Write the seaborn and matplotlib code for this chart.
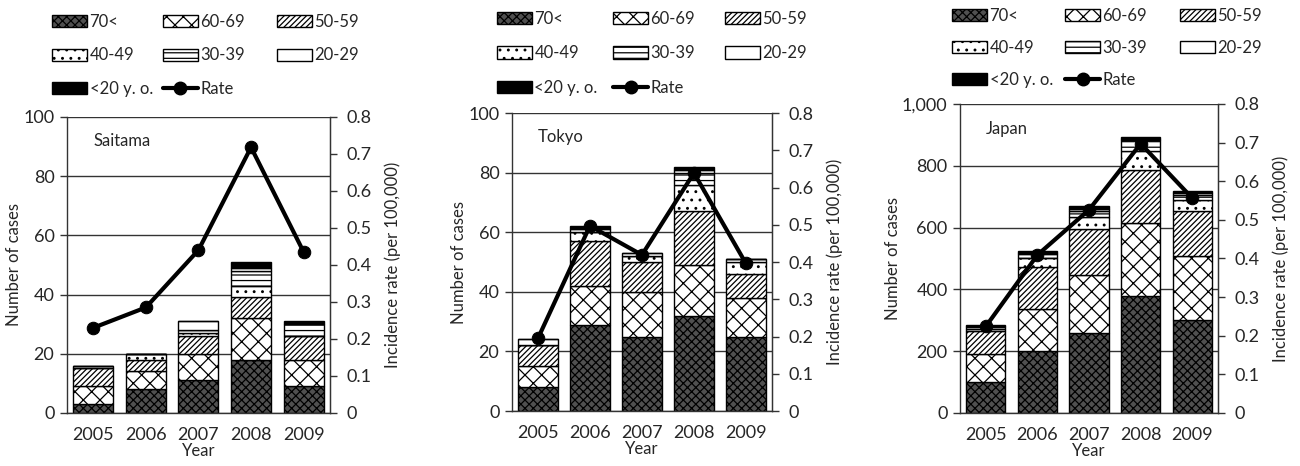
import numpy as np
import pandas as pd
import seaborn as sns
import matplotlib.pyplot as plt
from matplotlib.patches import Patch
from matplotlib.lines import Line2D

sns.set_style("white")
plt.rcParams['font.family'] = ['Lato', 'DejaVu Sans']
plt.rcParams['hatch.linewidth'] = 0.9

years = ['2005', '2006', '2007', '2008', '2009']
groups = ['70<', '60-69', '50-59', '40-49', '30-39', '20-29', '<20 y. o.']

# cases by age group (rows: 70<, 60-69, 50-59, 40-49, 30-39, 20-29, <20)
saitama_cases = [[3, 8, 11, 18, 9],
                 [6, 6, 9, 14, 9],
                 [6, 4, 6, 7, 8],
                 [0, 2, 1, 4, 0],
                 [1, 0, 1, 5, 4],
                 [0, 0, 3, 1, 0],
                 [0, 0, 0, 2, 1]]
tokyo_cases = [[8, 29, 25, 32, 25],
               [7, 13, 15, 17, 13],
               [7, 15, 10, 18, 8],
               [0, 3, 2, 9, 4],
               [0, 0, 0, 4, 1],
               [2, 1, 1, 1, 0],
               [0, 1, 0, 1, 0]]
japan_cases = [[100, 200, 260, 378, 300],
               [90, 135, 187, 235, 209],
               [76, 137, 148, 172, 143],
               [6, 30, 40, 64, 38],
               [5, 12, 18, 33, 16],
               [4, 5, 8, 6, 6],
               [2, 4, 8, 6, 7]]

saitama_rate = [0.23, 0.285, 0.44, 0.718, 0.435]
tokyo_rate = [0.195, 0.497, 0.419, 0.639, 0.396]
japan_rate = [0.224, 0.409, 0.526, 0.697, 0.556]

# look of each age band
faces = ['#505050', 'white', 'white', 'white', 'white', 'white', 'black']
hatches = ['xxxx', 'xx', '//////', '..', '---', '', '']

fig = plt.figure(figsize=(13, 4.66), dpi=100)

# name, data, rate, ymax, step, axes rect, legend column x (px), legend top y (px), row spacing
panels = [
    ('Saitama', saitama_cases, saitama_rate, 100, 20, [0.0515, 0.114, 0.2023, 0.635], [52, 163, 277], 14, 1.05),
    ('Tokyo', tokyo_cases, tokyo_rate, 100, 20, [0.3938, 0.118, 0.2, 0.6395], [497, 613, 725], 11, 1.1),
    ('Japan', japan_cases, japan_rate, 1000, 200, [0.7385, 0.114, 0.1985, 0.663], [952, 1065, 1180], 8, 0.95),
]

# legend rows read 70<, 60-69, 50-59 / 40-49, 30-39, 20-29 / <20, Rate
leg_cols = [[0, 3, 6], [1, 4, 7], [2, 5]]

for name, cases, rate, ymax, ystep, pos, colx, legtop, lspace in panels:
    ax = fig.add_axes(pos)
    x = np.arange(len(years))
    bottom = np.zeros(len(years))
    for i, vals in enumerate(cases):
        ax.bar(x, vals, bottom=bottom, width=0.76, color=faces[i], hatch=hatches[i],
               edgecolor='black', linewidth=1.0, zorder=2)
        bottom += np.array(vals)

    ax.set_xlim(-0.5, 4.5)
    ax.set_ylim(0, ymax)
    yt = np.arange(0, ymax + 1, ystep)
    ax.set_yticks(yt)
    ax.set_yticklabels([f'{v:,}' for v in yt], fontsize=13)
    ax.yaxis.grid(True, color='#333333', linewidth=1.0)
    ax.set_axisbelow(True)
    ax.set_xticks(x)
    ax.set_xticklabels(years, fontsize=13)
    ax.set_xticks(np.arange(-0.5, 5, 1), minor=True)
    ax.tick_params(axis='x', which='major', length=0, pad=10)
    ax.tick_params(axis='x', which='minor', length=5, width=1, direction='out', color='#333333')
    ax.tick_params(axis='y', length=5, width=1, direction='out', color='#333333', left=True, pad=4)
    ax.spines['top'].set_visible(False)
    for s in ['left', 'bottom', 'right']:
        ax.spines[s].set_color('#333333')
        ax.spines[s].set_linewidth(1.0)
    ax.set_ylabel('Number of cases', fontsize=12, labelpad=1)
    ax.set_xlabel('Year', fontsize=12, labelpad=0)
    ax.text(0.1, 0.92, name, transform=ax.transAxes, fontsize=12, va='center')

    ax2 = ax.twinx()
    sns.lineplot(x=x, y=rate, ax=ax2, color='black', linewidth=3, marker='o',
                 markersize=9, markeredgecolor='black', zorder=5)
    ax2.set_ylim(0, 0.8)
    rt = np.round(np.arange(0, 0.81, 0.1), 1)
    ax2.set_yticks(rt)
    ax2.set_yticklabels(['0'] + [f'{v:.1f}' for v in rt[1:]], fontsize=13)
    ax2.tick_params(axis='y', length=5, width=1, direction='out', color='#333333', right=True, pad=7)
    ax2.set_ylabel('Incidence rate (per 100,000)', fontsize=12, labelpad=9)
    for s in ['top', 'left', 'bottom']:
        ax2.spines[s].set_visible(False)
    ax2.spines['right'].set_color('#333333')

    handles = [Patch(facecolor=faces[i], hatch=hatches[i], edgecolor='black', linewidth=1.0)
               for i in range(len(groups))]
    handles.append(Line2D([0], [0], color='black', linewidth=3, marker='o', markersize=9))
    labels = groups + ['Rate']
    for cx, col in zip(colx, leg_cols):
        fig.legend([handles[k] for k in col], [labels[k] for k in col],
                   loc='upper left', bbox_to_anchor=(cx / 1300, 1 - legtop / 466),
                   ncol=1, frameon=False, fontsize=12, handlelength=2.1, handleheight=0.75,
                   handletextpad=0.15, labelspacing=lspace, borderpad=0, borderaxespad=0)

fig.savefig('out.png', dpi=100)
